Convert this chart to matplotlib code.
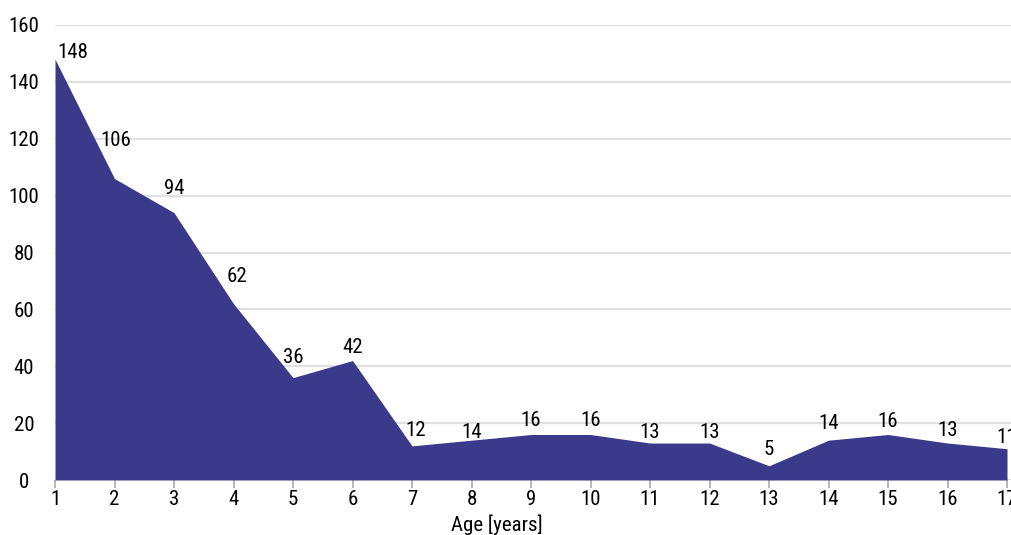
import matplotlib.pyplot as plt
from matplotlib import font_manager

ages = list(range(1, 18))
counts = [148, 106, 94, 62, 36, 42, 12, 14, 16, 16, 13, 13, 5, 14, 16, 13, 11]
y_ticks = [0, 20, 40, 60, 80, 100, 120, 140, 160]

# label offsets above each point, in pixels (dx, dy)
lab_dx = [18, 1, 0, 4, 0, 0, 4, 0, 0, 0, 0, 0, 0, 0, 0, 0, 0]
lab_dy = [7, 38, 24, 27, 20, 13, 15, 8, 14, 14, 11, 11, 16, 17, 13, 13, 11]

names = set(f.name for f in font_manager.fontManager.ttflist)
fam = 'DejaVu Sans'
for c in ['Roboto Condensed', 'Liberation Sans Narrow', 'Open Sans Condensed',
          'Noto Sans Condensed']:
    if c in names:
        fam = c
        break
plt.rcParams['font.family'] = [fam, 'DejaVu Sans']

fig = plt.figure(figsize=(10.11, 5.35), dpi=100)
ax = fig.add_axes([55/1011, 55/535, 956/1011, 455/535])

col = '#3b3a8a'
ax.fill_between(ages, counts, color=col, linewidth=0, zorder=2)

ax.set_xlim(1, 17 + 4*16/952)
ax.set_ylim(0, 160)
ax.set_yticks(y_ticks)
ax.set_xticks(ages)
ax.grid(axis='y', color='#e0e0e0', linewidth=1.6, zorder=0)
for s in ax.spines.values():
    s.set_visible(False)
# pad is in points: 31 px from the axis to the label centre
ax.tick_params(axis='y', length=0, labelsize=15, pad=31*72/100)
for t in ax.get_yticklabels():
    t.set_horizontalalignment('center')
ax.tick_params(axis='x', length=6, width=1.2, color='#aaaaaa', labelsize=15, pad=1)

for x, v, dx, dy in zip(ages, counts, lab_dx, lab_dy):
    ax.annotate(str(v), (x, v), xytext=(dx, dy), textcoords='offset pixels',
                ha='center', va='center', fontsize=15, clip_on=False)

fig.text(497/1011, 10/535, 'Age [years]', ha='center', va='center', fontsize=15)

fig.savefig('out.png', dpi=100)
